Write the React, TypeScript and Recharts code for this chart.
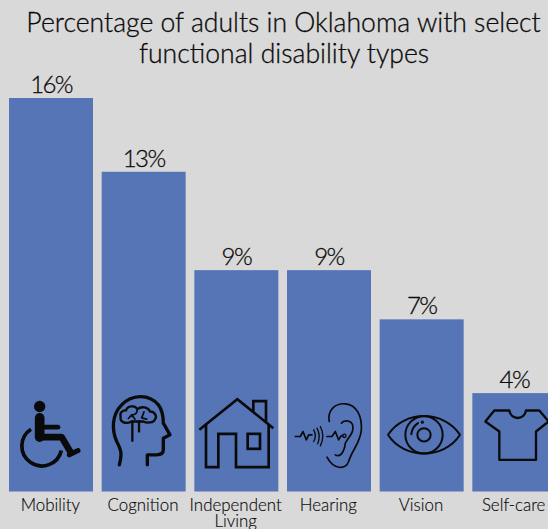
import { BarChart, Bar, XAxis, YAxis, LabelList } from "recharts";

const categories = ["Mobility", "Cognition", "Independent Living", "Hearing", "Vision", "Self-care"];
const percentages = [16, 13, 9, 9, 7, 4];
const titleLines = ["Percentage of adults in Oklahoma with select", "functional disability types"];

const data = categories.map((name, i) => ({ name, value: percentages[i] }));

const FONT = "Lato, 'Open Sans', sans-serif";
const BAR_COLOR = "#5575b7";
const INK = "#0a0a0a";

// icons are traced in 3x units, origin at the bar's bottom-left corner
const line = { fill: "none", stroke: INK, strokeLinejoin: "round", strokeLinecap: "round" } as const;

const WheelchairIcon = () => (
  <g transform="translate(-28,-335)">
    <circle cx={120} cy={80} r={17} fill={INK} />
    <path d="M120 114V172" {...line} strokeWidth={29} />
    <path d="M120 172H186L218 226" {...line} strokeWidth={20} strokeLinecap="butt" />
    <path d="M125 142H175" {...line} strokeWidth={14} />
    <path d="M209 225L235 212" {...line} strokeWidth={15} />
    <path d="M94 148A60 60 0 1 0 185 212" {...line} strokeWidth={11} strokeLinecap="butt" />
  </g>
);

const BrainIcon = () => (
  <g transform="translate(-305,-335)" {...line}>
    <path
      d="M358 255C366 225 365 212 350 185C335 150 335 105 365 75C395 45 445 40 475 75C490 95 490 115 490 130L510 165L490 175L490 210C490 222 480 225 470 225L442 225V255"
      strokeWidth={10}
    />
    <path
      d="M395 125C375 135 358 125 362 110C358 100 368 90 378 92C382 78 405 75 412 88C425 78 445 82 450 95C465 95 472 110 465 118C462 130 440 130 430 125Z"
      strokeWidth={7}
    />
    <path d="M397 125V183M417 125V155" strokeWidth={7} />
    <path d="M412 88C412 100 405 105 395 105L385 116M395 105L405 118M432 96L425 114L440 118" strokeWidth={5} />
  </g>
);

const HouseIcon = () => (
  <g transform="translate(-583,-335)" {...line} strokeLinecap="butt" strokeLinejoin="miter">
    <path d="M598 150L712 58L820 145" strokeWidth={8} />
    <path d="M760 95V64H798V128" strokeWidth={8} />
    <path d="M618 132V262H655V162H708V262H806V132" strokeWidth={8} />
    <rect x={743} y={162} width={37} height={45} strokeWidth={8} />
  </g>
);

const EarIcon = () => (
  <g transform="translate(-20,-335)" {...line}>
    <path d="M147 125C140 90 165 70 195 72C230 75 245 110 243 150C240 190 215 210 205 245C195 270 160 270 140 232" strokeWidth={5} />
    <path d="M183 130C190 120 210 120 217 135C222 160 205 170 195 190C192 215 180 235 165 225" strokeWidth={5} />
    <path d="M45 170H60L68 155L78 180L85 165H95" strokeWidth={5} />
    <path d="M100 150Q110 168 100 185M110 145Q122 168 112 192M120 140Q135 168 120 198" strokeWidth={4} />
    <path d="M140 170H155L165 155L175 180L182 168H187" strokeWidth={5} />
    <circle cx={192} cy={168} r={5} strokeWidth={4} />
  </g>
);

const EyeIcon = () => (
  <g transform="translate(-297,-335)" {...line} strokeWidth={6}>
    <path d="M322 165C370 90 490 90 538 165C490 240 370 240 322 165Z" />
    <circle cx={430} cy={165} r={56} />
    <circle cx={430} cy={165} r={20} />
    <path d="M392 163C393 150 400 138 412 130" />
    <circle cx={425} cy={127} r={2} />
  </g>
);

const ShirtIcon = () => (
  <g transform="translate(-574,-335)" {...line} strokeWidth={7}>
    <path d="M685 92H640L613 125L655 155V240H765V155L803 125L775 92H735C730 122 690 122 685 92Z" />
  </g>
);

const icons = [WheelchairIcon, BrainIcon, HouseIcon, EarIcon, EyeIcon, ShirtIcon];

const IconBar = ({ x, y, width, height, index }: any) => {
  const Icon = icons[index];
  return (
    <g>
      <rect x={x} y={y} width={width} height={height} fill={BAR_COLOR} />
      <g transform={`translate(${x},${y + height}) scale(${1 / 3})`}>
        <Icon />
      </g>
    </g>
  );
};

const CategoryTick = ({ x, y, payload }: any) => (
  <text
    x={x - 1}
    y={y + 13}
    textAnchor="middle"
    fontFamily={FONT}
    fontWeight={300}
    fontSize={16.9}
    fill={INK}
    stroke={INK}
    strokeWidth={0.15}
  >
    {(payload.value === "Independent Living" ? payload.value.split(" ") : [payload.value]).map(
      (part: string, i: number) => (
        <tspan key={part} x={x - 1} dy={i === 0 ? 0 : 16}>
          {part}
        </tspan>
      )
    )}
  </text>
);

export default function App() {
  return (
    <div style={{ position: "absolute", left: 0, top: 0, width: 548, height: 529, overflow: "hidden", background: "#d9d9d9" }}>
      <BarChart
        width={561}
        height={529}
        data={data}
        margin={{ top: 98, right: 0, bottom: 0, left: 5 }}
      >
        <XAxis
          dataKey="name"
          axisLine={false}
          tickLine={false}
          interval={0}
          height={37.5}
          tickMargin={0}
          tick={<CategoryTick />}
        />
        <YAxis hide domain={[0, 16]} />
        <Bar dataKey="value" barSize={84} shape={<IconBar />} isAnimationActive={false}>
          <LabelList
            dataKey="value"
            position="top"
            formatter={(v: number) => `${v}%`}
            fontFamily={FONT}
            fontWeight={300}
            fontSize={24}
            fill={INK}
            stroke={INK}
            strokeWidth={0.3}
            offset={5}
            letterSpacing={-1.6}
          />
        </Bar>
        <text
          textAnchor="middle"
          fontFamily={FONT}
          fontWeight={300}
          fontSize={26.6}
          fill={INK}
          stroke={INK}
          strokeWidth={0.3}
        >
          <tspan x={283.5} y={32}>{titleLines[0]}</tspan>
          <tspan x={284} y={63}>{titleLines[1]}</tspan>
        </text>
      </BarChart>
    </div>
  );
}
